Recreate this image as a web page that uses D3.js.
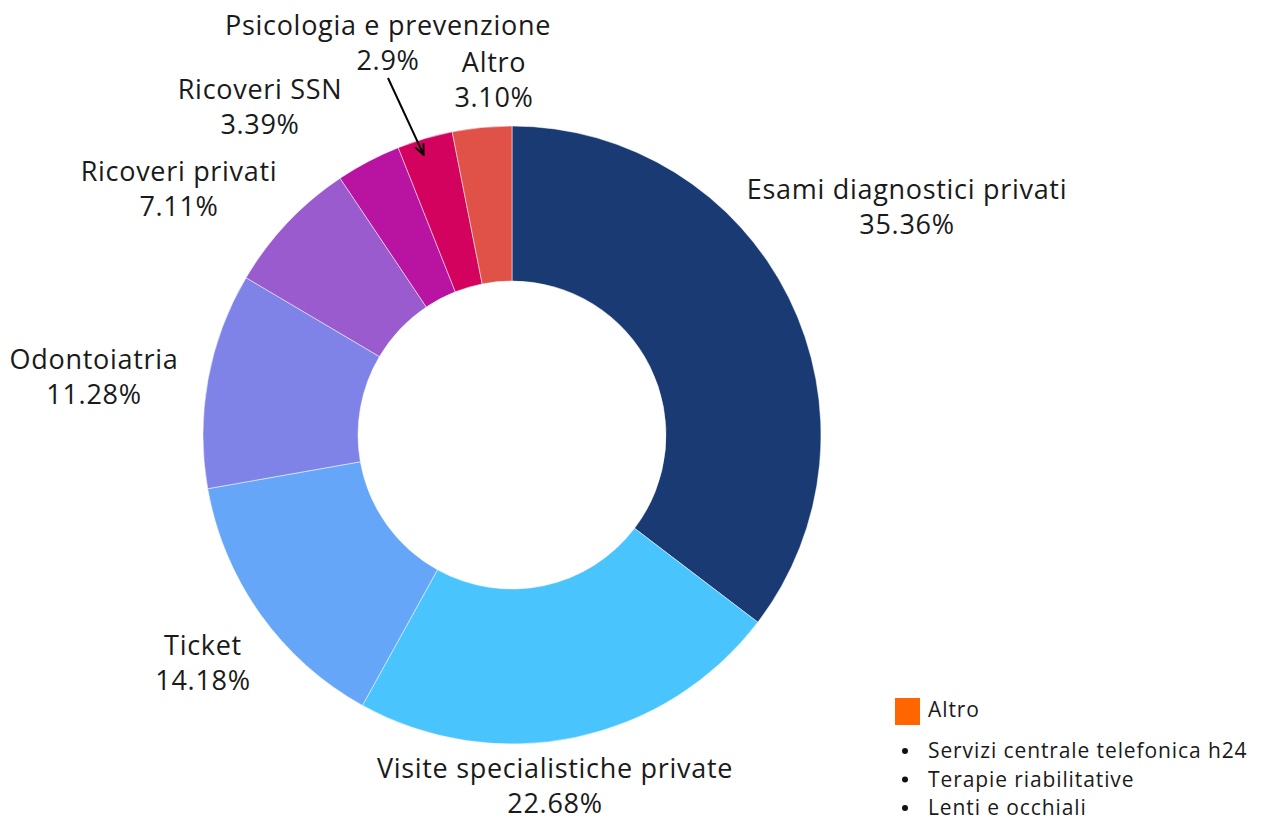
<!DOCTYPE html>
<html>
<head>
<meta charset="utf-8">
<script src="https://cdn.jsdelivr.net/npm/d3@7"></script>
<style>
  body { margin: 0; background: #fff; }
  text { font-family: "Open Sans", "Noto Sans", sans-serif; fill: #1a1a1a; }
</style>
</head>
<body>
<div id="chart"></div>
<script>
  // page size
  var w = 1268;
  var h = 821;

  // slices, clockwise from 12 o'clock
  var categories = ["Esami diagnostici privati", "Visite specialistiche private", "Ticket",
                    "Odontoiatria", "Ricoveri privati", "Ricoveri SSN",
                    "Psicologia e prevenzione", "Altro"];
  var values = [35.36, 22.68, 14.18, 11.28, 7.11, 3.39, 2.9, 3.10];
  var valueLabels = ["35.36%", "22.68%", "14.18%", "11.28%", "7.11%", "3.39%", "2.9%", "3.10%"];
  var colors = ["#193a73", "#4ac4fd", "#66a6f8", "#7f82e7", "#9a5bce", "#b813a1", "#d2025e", "#e05148"];

  // legend box for "Altro"
  var legendTitle = "Altro";
  var legendItems = ["Servizi centrale telefonica h24", "Terapie riabilitative", "Lenti e occhiali"];

  // label anchors (first baseline), relative to the donut centre, hand placed like the original
  var labelSpots = [[395, -236], [43, 343], [-309, 220], [-418, -66],
                    [-333, -254], [-252, -336], [-124, -400], [-18, -363]];

  var cx = 512, cy = 435;
  var outerR = 309, innerR = 154;

  var svg = d3.select("#chart")
              .append("svg")
              .attr("width", w)
              .attr("height", h);

  var pie = d3.pie()
              .sort(null)
              .value(function(d){ return d; });

  var arc = d3.arc()
              .innerRadius(innerR)
              .outerRadius(outerR);

  var g = svg.append("g")
             .attr("transform", "translate(" + cx + "," + cy + ")");

  g.selectAll("path")
    .data(pie(values))
    .enter()
    .append("path")
    .attr("d", arc)
    .attr("fill", function(d, i){ return colors[i]; })
    .attr("stroke", "#fff")
    .attr("stroke-width", 0.5);

  // two-line labels: name on top, percentage below
  var labels = g.selectAll("text.lbl")
    .data(categories)
    .enter()
    .append("text")
    .attr("class", "lbl")
    .attr("text-anchor", "middle")
    .attr("font-size", "27px")
    .attr("letter-spacing", "0.7px");

  labels.append("tspan")
    .attr("x", function(d, i){ return labelSpots[i][0]; })
    .attr("y", function(d, i){ return labelSpots[i][1]; })
    .text(function(d){ return d; });

  labels.append("tspan")
    .attr("x", function(d, i){ return labelSpots[i][0]; })
    .attr("y", function(d, i){ return labelSpots[i][1] + 35; })
    .text(function(d, i){ return valueLabels[i]; });

  // arrow from the small "Psicologia" label to its slice
  svg.append("defs").append("marker")
    .attr("id", "head")
    .attr("viewBox", "0 0 10 10")
    .attr("refX", 9).attr("refY", 5)
    .attr("markerWidth", 6).attr("markerHeight", 6)
    .attr("orient", "auto")
    .append("path")
    .attr("d", "M0,1 L9,5 L0,9")
    .attr("fill", "none")
    .attr("stroke", "#000")
    .attr("stroke-width", 1.6);

  var psi = pie(values)[6];
  var tip = d3.arc().innerRadius(292).outerRadius(292).centroid(psi);
  g.append("line")
    .attr("x1", labelSpots[6][0])
    .attr("y1", labelSpots[6][1] + 43)
    .attr("x2", tip[0] - 6)
    .attr("y2", tip[1])
    .attr("stroke", "#000")
    .attr("stroke-width", 2)
    .attr("marker-end", "url(#head)");

  // legend
  var lg = svg.append("g").attr("transform", "translate(895,698)");
  lg.append("rect")
    .attr("width", 25).attr("height", 27)
    .attr("fill", "#ff6600");
  lg.append("text")
    .attr("x", 33).attr("y", 19)
    .attr("font-size", "21px")
    .attr("letter-spacing", "0.9px")
    .text(legendTitle);

  var items = lg.selectAll("g.item")
    .data(legendItems)
    .enter()
    .append("g")
    .attr("class", "item")
    .attr("transform", function(d, i){ return "translate(0," + (53 + i * 28.5) + ")"; });
  items.append("circle")
    .attr("cx", 10).attr("cy", 0)
    .attr("r", 3)
    .attr("fill", "#111");
  items.append("text")
    .attr("x", 33).attr("y", 7)
    .attr("font-size", "21px")
    .attr("letter-spacing", "0.9px")
    .text(function(d){ return d; });
</script>
</body>
</html>
